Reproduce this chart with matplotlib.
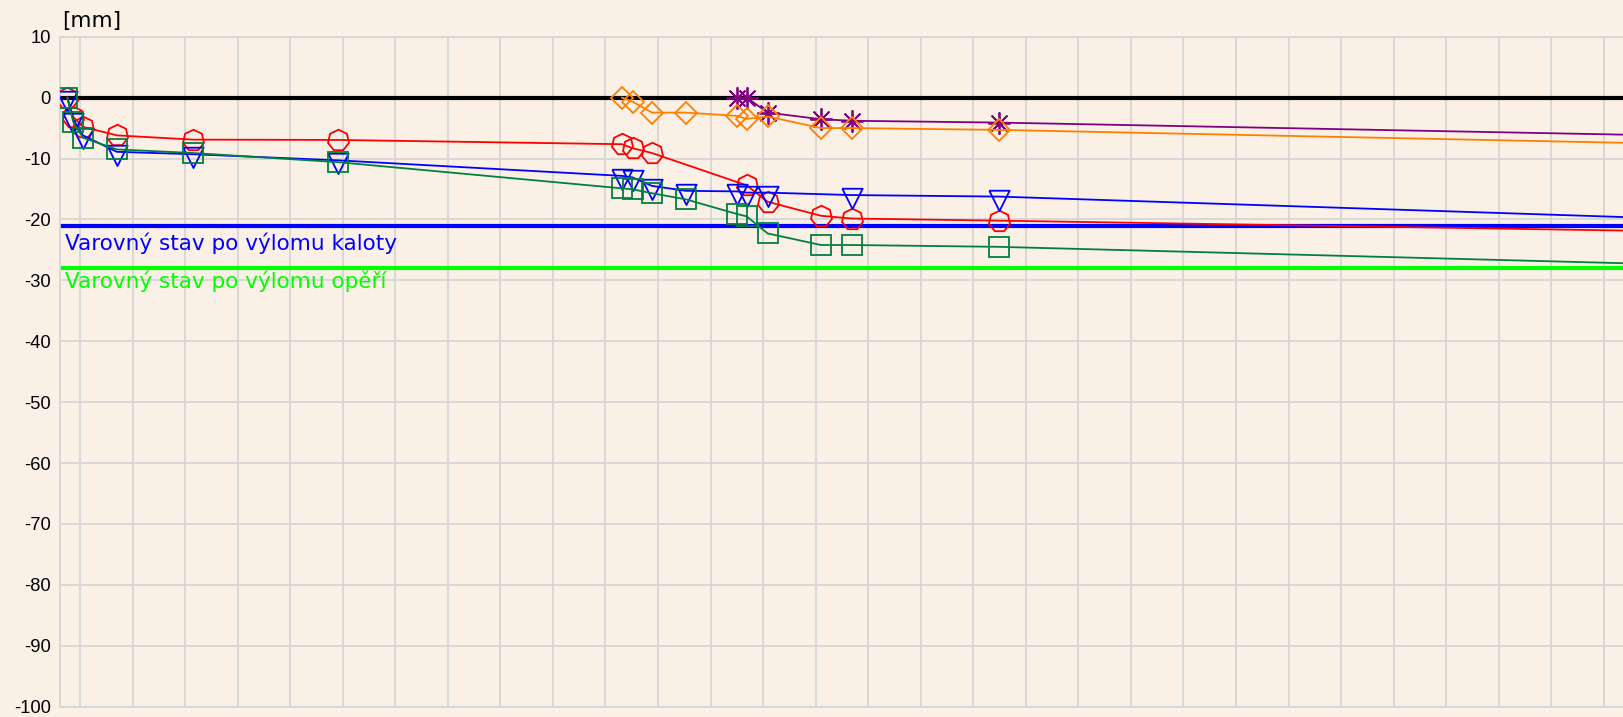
import matplotlib
matplotlib.use("Agg")
import matplotlib.pyplot as plt
import numpy as np

# ---- data (x in days, y in mm) ----
x_left = [-1.7, -0.9, 0.4, 4.9, 15.1, 34.4]

red_x = x_left + [72.2, 73.6, 76.2, 88.8, 91.6, 98.7, 102.8, 122.4, 240]
red_y = [0, -3.2, -4.8, -6.2, -6.9, -6.95, -7.65, -8.3, -9.1, -14.4, -17.1, -19.4, -19.85, -20.2, -22.5]

blue_x = x_left + [72.2, 73.6, 76.2, 80.7, 87.5, 88.8, 91.6, 102.8, 122.4, 240]
blue_y = [0, -3.6, -6.2, -8.9, -9.3, -10.3, -12.85, -13.1, -14.5, -15.3, -15.4, -15.6, -15.6, -16.0, -16.25, -21.0]

green_x = x_left + [72.2, 73.6, 76.2, 80.7, 87.5, 88.8, 91.6, 98.7, 102.8, 122.4, 240]
green_y = [0, -4.0, -6.6, -8.5, -9.1, -10.6, -14.9, -15.05, -15.7, -16.7, -19.1, -19.5, -22.3, -24.2, -24.2, -24.5, -28.3]

orange_x = [72.2, 73.6, 76.2, 80.7, 87.5, 88.8, 91.6, 98.7, 102.8, 122.4, 240]
orange_y = [0, -0.66, -2.46, -2.46, -3.0, -3.5, -3.1, -5.0, -5.0, -5.3, -8.3]

purple_x = [87.5, 88.8, 91.6, 98.7, 102.8, 122.4, 240]
purple_y = [0, 0, -2.46, -3.55, -3.8, -4.1, -6.9]

warn_kalota = -21
warn_operi = -28
label_kalota = "Varovný stav po výlomu kaloty"
label_operi = "Varovný stav po výlomu opěří"
y_ticks = list(range(-100, 11, 10))
y_unit = "[mm]"

# ---- figure ----
W, H = 1624, 717
fig = plt.figure(figsize=(W / 100, H / 100), dpi=100)
bg = "#FAF0E6"
fig.patch.set_facecolor(bg)
ax = fig.add_axes([60 / W, 10.3 / H, 1 - 60 / W + 0.001, 670 / H])
ax.set_facecolor(bg)

grid_c = "#D6D6D6"
ax.set_xlim(-2.67, 205.9)
ax.set_ylim(-100, 10)
ax.set_xticks(np.arange(0, 206, 7))
ax.set_xticklabels([])
ax.set_yticks(y_ticks)
ax.set_yticklabels([str(v) for v in y_ticks], fontsize=13.2, family="Liberation Sans")
ax.tick_params(axis="both", length=0, pad=6.5)
ax.grid(True, color=grid_c, linewidth=1.3, zorder=0)
for s in ax.spines.values():
    s.set_color(grid_c)
    s.set_linewidth(1.3)
ax.spines["right"].set_visible(False)

ax.axhline(0, color="black", linewidth=3, zorder=2)
ax.axhline(warn_kalota, color="#0000FF", linewidth=3, zorder=2)
ax.axhline(warn_operi, color="#00FF00", linewidth=3, zorder=2)

tri = [(-0.75, 0.5), (0.75, 0.5), (0.0, -1.0), (-0.75, 0.5)]

mk = dict(markerfacecolor="none", markeredgewidth=1.3, linewidth=1.3, zorder=3)
ax.plot(purple_x, purple_y, color="#800080", marker=(8, 2, 0), markersize=16, **mk)
ax.plot(orange_x, orange_y, color="#FF8000", marker="D", markersize=11, **mk)
ax.plot(red_x, red_y, color="#FF0000", marker=(7, 0, 0), markersize=15.5, **mk)
ax.plot(blue_x, blue_y, color="#0000FF", marker=tri, markersize=19.5, **mk)
ax.plot(green_x, green_y, color="#008040", marker="s", markersize=14.5, **mk)

ax.text(-2.0, -25.0, label_kalota, color="#0000FF", fontsize=15.5, family="DejaVu Sans",
        va="baseline", ha="left", zorder=4)
ax.text(-2.0, -31.3, label_operi, color="#00FF00", fontsize=15.5, family="DejaVu Sans",
        va="baseline", ha="left", zorder=4)

fig.text(62 / W, 1 - 26.7 / H, y_unit, fontsize=15.5, family="DejaVu Sans", va="baseline", ha="left")

fig.savefig("out.png", dpi=100, facecolor=bg)
